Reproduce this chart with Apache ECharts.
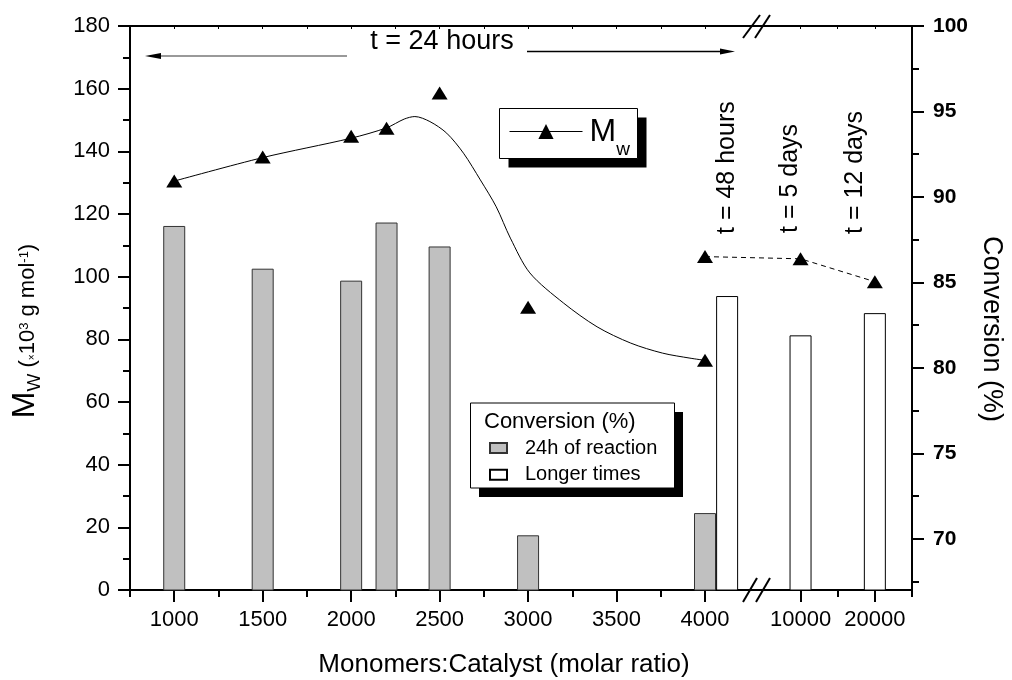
<!DOCTYPE html>
<html>
<head>
<meta charset="utf-8">
<title>Mw and conversion vs monomers:catalyst ratio</title>
<script src="https://cdn.jsdelivr.net/npm/echarts@6/dist/echarts.min.js"></script>
<style>
  html, body { margin: 0; padding: 0; background: #fff; }
  #chart { width: 1012px; height: 680px; }
</style>
</head>
<body>
<div id="chart"></div>
<script>
  // 24 h runs
  var ratio24h = [1000, 1500, 2000, 2200, 2500, 3000, 4000];
  var conv24h = [88.3, 85.8, 85.1, 88.5, 87.1, 70.2, 71.5];
  var mw24h = [130.5, 138.2, 144.8, 147.4, 158.6, 90.2, 73.3];

  // longer reaction times
  var ratioLong = [4000, 10000, 20000];
  var convLong = [84.2, 81.9, 83.2];
  var mwLong = [106.4, 105.7, 98.4];
  var longLabels = ['t = 48 hours', 't = 5 days', 't = 12 days'];

  // fitted Mw curve
  var fitRatio = [1000, 1500, 2000, 2200, 2300, 2360, 2445, 2540, 2635, 2730, 2820, 2900, 3010, 3200, 3390, 3580, 3760, 3915, 4000];
  var fitMw = [130.5, 138.0, 144.2, 147.5, 150.3, 151.1, 149.5, 145.8, 139.4, 130.9, 122.3, 112.3, 101.2, 91.6, 84.0, 78.8, 75.6, 74.0, 73.3];

  var xTicks = [1000, 1500, 2000, 2500, 3000, 3500, 4000, 10000, 20000];
  var xMinorTicks = [750, 1250, 1750, 2250, 2750, 3250, 3750, 15000, 25000];
  var convTicks = [70, 75, 80, 85, 90, 95, 100];
  var convMinorTicks = [67.5, 72.5, 77.5, 82.5, 87.5, 92.5, 97.5];

  // broken x axis: 750..4000 linear, then 10000..25000 squeezed after the break
  function pos(v) {
    return v <= 4000 ? v : Math.round(4540 + (v - 10000) * 0.042);
  }

  var FONT = 'Liberation Sans, Arial, sans-serif';
  var barShift = 125; // 48 h bar sits right next to the 24 h bar at 4000

  var labelAt = {};
  xTicks.forEach(function (v) { labelAt[pos(v)] = String(v); });

  var chart = echarts.init(document.getElementById('chart'));

  var option = {
    animation: false,
    backgroundColor: '#fff',
    textStyle: { fontFamily: FONT, color: '#000' },
    grid: { left: 130, right: 100, top: 26, bottom: 90 },
    xAxis: [
      {
        type: 'value', position: 'bottom', min: 750, max: 5170,
        axisLine: { onZero: false, lineStyle: { color: '#000', width: 2 } },
        axisTick: { customValues: xTicks.map(pos), length: 12, lineStyle: { color: '#000', width: 2 } },
        axisLabel: {
          customValues: xTicks.map(pos), fontSize: 22, color: '#000', margin: 19,
          formatter: function (v) { return labelAt[v] || ''; }
        },
        splitLine: { show: false }
      },
      {
        type: 'value', position: 'bottom', min: 750, max: 5170,
        axisLine: { show: false, onZero: false },
        axisTick: { customValues: xMinorTicks.map(pos), length: 7, lineStyle: { color: '#000', width: 2 } },
        axisLabel: { show: false },
        splitLine: { show: false }
      },
      {
        type: 'value', position: 'top', min: 750, max: 5170,
        axisLine: { onZero: false, lineStyle: { color: '#000', width: 2 } },
        axisTick: { inside: true, customValues: xTicks.concat(xMinorTicks).map(pos), length: 3, lineStyle: { color: '#000', width: 1 } },
        axisLabel: { show: false },
        splitLine: { show: false }
      }
    ],
    yAxis: [
      {
        type: 'value', position: 'left', min: 0, max: 180, interval: 20,
        axisLine: { show: true, onZero: false, lineStyle: { color: '#000', width: 2 } },
        axisTick: { show: true, length: 12, lineStyle: { color: '#000', width: 2 } },
        minorTick: { show: true, splitNumber: 2, length: 7, lineStyle: { color: '#000', width: 2 } },
        axisLabel: { fontSize: 22, color: '#000', margin: 20 },
        splitLine: { show: false }
      },
      {
        type: 'value', position: 'right', min: 67, max: 100,
        axisLine: { show: true, onZero: false, lineStyle: { color: '#000', width: 2 } },
        axisTick: { show: true, customValues: convTicks, length: 12, lineStyle: { color: '#000', width: 2 } },
        axisLabel: { customValues: convTicks, fontSize: 21, fontWeight: 'bold', color: '#000', margin: 21 },
        splitLine: { show: false }
      },
      {
        type: 'value', position: 'right', min: 67, max: 100,
        axisLine: { show: false, onZero: false },
        axisTick: { show: true, customValues: convMinorTicks, length: 7, lineStyle: { color: '#000', width: 2 } },
        axisLabel: { show: false },
        splitLine: { show: false }
      }
    ],
    legend: [
      {
        data: ['Mw'], left: 509, top: 116, padding: 0, z: 20,
        selectedMode: false, itemWidth: 73, itemHeight: 19,
        lineStyle: { color: '#000', width: 1, opacity: 1, type: 'solid' },
        formatter: function () { return '{m|M}{w|w}'; },
        textStyle: {
          color: '#000',
          rich: {
            m: { fontSize: 32, fontFamily: FONT, verticalAlign: 'top', padding: [12, 0, 0, 2] },
            w: { fontSize: 19, fontFamily: FONT, verticalAlign: 'top', padding: [36, 0, 0, 0] }
          }
        }
      },
      {
        data: ['24h of reaction', 'Longer times'], orient: 'vertical',
        left: 489, top: 438, padding: 0, z: 20, selectedMode: false,
        itemWidth: 17, itemHeight: 10, itemGap: 6.7, icon: 'rect',
        formatter: function (name) { return '{g| }' + name; },
        textStyle: { fontSize: 20, color: '#000', rich: { g: { width: 13, fontSize: 20 } } }
      }
    ],
    series: [
      {
        name: '24h of reaction', type: 'bar', xAxisIndex: 0, yAxisIndex: 1,
        barWidth: 22, barGap: '-100%', clip: true,
        itemStyle: { color: '#c0c0c0', borderColor: '#333', borderWidth: 1 },
        data: ratio24h.map(function (v, i) { return [pos(v), conv24h[i]]; })
      },
      {
        name: 'Longer times', type: 'bar', xAxisIndex: 0, yAxisIndex: 1,
        barWidth: 22, barGap: '-100%', clip: true,
        itemStyle: { color: '#fff', borderColor: '#000', borderWidth: 1 },
        data: ratioLong.map(function (v, i) {
          return [pos(v) + (v === 4000 ? barShift : 0), convLong[i]];
        })
      },
      {
        name: 'Mw fit', type: 'line', xAxisIndex: 0, yAxisIndex: 0,
        smooth: 0.3, symbol: 'none', z: 3,
        lineStyle: { color: '#000', width: 1 },
        data: fitRatio.map(function (v, i) { return [v, fitMw[i]]; })
      },
      {
        name: 'Mw', type: 'line', xAxisIndex: 0, yAxisIndex: 0, z: 4,
        symbol: 'triangle', symbolSize: [16, 13],
        itemStyle: { color: '#000' },
        lineStyle: { width: 0, opacity: 0 },
        data: ratio24h.map(function (v, i) { return [pos(v), mw24h[i]]; })
      },
      {
        name: 'Mw longer', type: 'line', xAxisIndex: 0, yAxisIndex: 0, z: 4,
        symbol: 'triangle', symbolSize: [16, 13],
        itemStyle: { color: '#000' },
        lineStyle: { color: '#000', width: 1, type: [5, 4] },
        data: ratioLong.map(function (v, i) { return [pos(v), mwLong[i]]; })
      }
    ],
    graphic: [
      // t = 24 hours arrows
      { type: 'line', shape: { x1: 158, y1: 56, x2: 347, y2: 56 }, style: { stroke: '#777', lineWidth: 1.5 } },
      { type: 'polygon', shape: { points: [[145, 56], [161, 53], [161, 59]] }, style: { fill: '#000' } },
      { type: 'line', shape: { x1: 527, y1: 51.5, x2: 724, y2: 51.5 }, style: { stroke: '#000', lineWidth: 1.5 } },
      { type: 'polygon', shape: { points: [[735, 51.5], [720, 48.5], [720, 54.5]] }, style: { fill: '#000' } },
      { type: 'text', x: 442, y: 42, style: { text: 't = 24 hours', font: '27px ' + FONT, fill: '#000', align: 'center', verticalAlign: 'middle' } },
      // axis break marks
      { type: 'line', shape: { x1: 743, y1: 38, x2: 760, y2: 15 }, style: { stroke: '#000', lineWidth: 2 } },
      { type: 'line', shape: { x1: 755, y1: 38, x2: 770, y2: 15 }, style: { stroke: '#000', lineWidth: 2 } },
      { type: 'line', shape: { x1: 743, y1: 602, x2: 757, y2: 578 }, style: { stroke: '#000', lineWidth: 2 } },
      { type: 'line', shape: { x1: 756, y1: 602, x2: 770, y2: 578 }, style: { stroke: '#000', lineWidth: 2 } },
      // legend frames
      { type: 'rect', z: 10, shape: { x: 508.5, y: 117.5, width: 138, height: 50 }, style: { fill: '#000' } },
      { type: 'rect', z: 11, shape: { x: 499.5, y: 108.5, width: 138, height: 50 }, style: { fill: '#fff', stroke: '#000', lineWidth: 1 } },
      { type: 'rect', z: 10, shape: { x: 479, y: 412, width: 204, height: 85 }, style: { fill: '#000' } },
      { type: 'rect', z: 11, shape: { x: 470.5, y: 403, width: 204, height: 85 }, style: { fill: '#fff', stroke: '#000', lineWidth: 1 } },
      { type: 'text', z: 12, x: 484, y: 422, style: { text: 'Conversion (%)', font: '22px ' + FONT, fill: '#000', align: 'left', verticalAlign: 'middle' } },
      // time labels above the longer-time bars
      { type: 'text', x: 727.5, y: 234, rotation: Math.PI / 2, style: { text: longLabels[0], font: '25px ' + FONT, fill: '#000', align: 'left', verticalAlign: 'middle' } },
      { type: 'text', x: 790, y: 233, rotation: Math.PI / 2, style: { text: longLabels[1], font: '25px ' + FONT, fill: '#000', align: 'left', verticalAlign: 'middle' } },
      { type: 'text', x: 855, y: 234, rotation: Math.PI / 2, style: { text: longLabels[2], font: '25px ' + FONT, fill: '#000', align: 'left', verticalAlign: 'middle' } },
      // axis titles
      {
        type: 'text', x: 25, y: 331, rotation: Math.PI / 2,
        style: {
          text: '{m|M}{w|W}{p| (}{x|×}{p|10}{s|3}{p| g mol}{s|-1}{p|)}',
          fill: '#000', align: 'center', verticalAlign: 'middle',
          rich: {
            m: { fontSize: 32, fontFamily: FONT, verticalAlign: 'top', padding: [3, 0, 0, 0] },
            w: { fontSize: 19, fontFamily: FONT, verticalAlign: 'top', padding: [19, 0, 0, 0] },
            p: { fontSize: 22, fontFamily: FONT, verticalAlign: 'top', padding: [11, 0, 0, 0] },
            x: { fontSize: 10, fontFamily: FONT, verticalAlign: 'top', padding: [21, 0, 0, 0] },
            s: { fontSize: 13, fontFamily: FONT, verticalAlign: 'top', padding: [12, 0, 0, 0] }
          }
        }
      },
      { type: 'text', x: 991, y: 329, rotation: -Math.PI / 2, style: { text: 'Conversion (%)', font: '27px ' + FONT, fill: '#000', align: 'center', verticalAlign: 'middle' } },
      { type: 'text', x: 504, y: 665, style: { text: 'Monomers:Catalyst (molar ratio)', font: '26px ' + FONT, fill: '#000', align: 'center', verticalAlign: 'middle' } }
    ]
  };

  chart.setOption(option);
</script>
</body>
</html>
